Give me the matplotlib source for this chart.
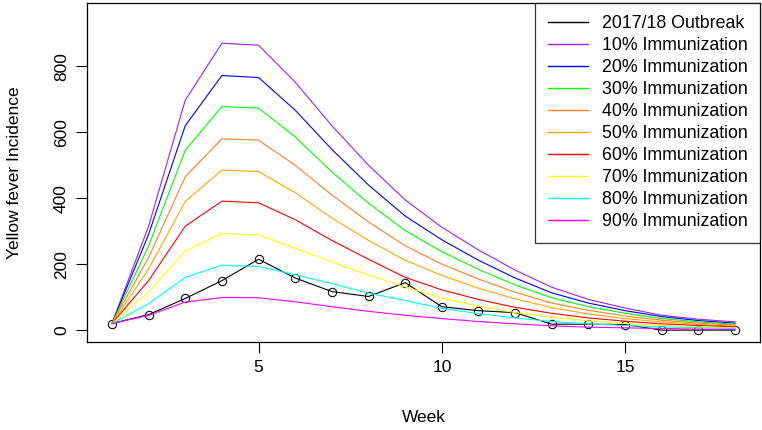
#!/usr/bin/env python3
# -*- coding: utf-8 -*-

import matplotlib
matplotlib.use('Agg')
import matplotlib.pyplot as plt

plt.rcParams['font.family'] = ['Liberation Sans', 'DejaVu Sans']

weeks = list(range(1, 19))

outbreak = [20, 47, 96, 150, 215, 158, 117, 102, 144, 71, 59, 53, 18, 18, 17, 0, 0, 0]

imm10 = [20, 315, 697, 870, 864, 752, 620, 500, 395, 312, 243, 182, 130, 93, 67, 45, 33, 25]
imm20 = [20, 290, 620, 772, 766, 667, 548, 440, 346, 274, 212, 158, 113, 82, 59, 41, 29, 21]
imm30 = [20, 255, 545, 678, 673, 586, 480, 385, 302, 238, 184, 137, 98, 71, 51, 35, 25, 18]
imm40 = [20, 220, 465, 580, 576, 500, 410, 328, 256, 200, 155, 115, 82, 60, 43, 30, 21, 15]
imm50 = [20, 185, 390, 485, 481, 417, 340, 272, 212, 166, 127, 95, 68, 49, 35, 25, 17, 12]
imm60 = [20, 150, 315, 391, 386, 335, 272, 215, 160, 122, 93, 69, 51, 37, 27, 19, 14, 10]
imm70 = [20, 115, 240, 293, 289, 248, 207, 167, 131, 97, 73, 53, 39, 28, 20, 14, 10, 7]
imm80 = [20, 80, 160, 197, 193, 168, 141, 112, 90, 66, 50, 37, 26, 19, 14, 10, 7, 5]
imm90 = [20, 45, 85, 99, 98, 86, 71, 57, 45, 35, 26, 19, 13, 9, 7, 5, 3, 2]

scenarios = [imm10, imm20, imm30, imm40, imm50, imm60, imm70, imm80, imm90]
labels = ['10% Immunization', '20% Immunization', '30% Immunization',
          '40% Immunization', '50% Immunization', '60% Immunization',
          '70% Immunization', '80% Immunization', '90% Immunization']
colors = ['#A020F0', '#0000FF', '#00FF00', '#FF7F24', '#FFA500',
          '#FF0000', '#FFFF00', '#00FFFF', '#FF00FF']

fig = plt.figure(figsize=(7.62, 4.30), dpi=100)
ax = fig.add_axes([87 / 762, 1 - 342 / 430, (760 - 87) / 762, (342 - 3) / 430])

ax.plot(weeks, outbreak, color='black', lw=0.8, marker='o', markersize=6,
        markerfacecolor='none', markeredgewidth=0.75, label='2017/18 Outbreak',
        zorder=1)
for ys, lab, c in zip(scenarios, labels, colors):
    ax.plot(weeks, ys, color=c, lw=0.8, label=lab, zorder=2)

ax.set_xlim(0.32, 18.68)
ax.set_ylim(-36, 992)
ax.set_xticks([5, 10, 15])
ax.set_yticks([0, 200, 400, 600, 800])
ax.tick_params(direction='out', length=8, width=0.8, labelsize=12.5, pad=5)
for lab in ax.get_yticklabels():
    lab.set_rotation(90)
    lab.set_va('center')
for s in ax.spines.values():
    s.set_linewidth(0.9)

ax.set_xlabel('Week', fontsize=12.5, labelpad=25)
ax.set_ylabel('Yellow fever Incidence', fontsize=12.5, labelpad=23)

leg = ax.legend(loc='upper right', borderaxespad=0, fontsize=12.8,
                frameon=True, fancybox=False, edgecolor='black',
                handlelength=2.25, handletextpad=0.8, labelspacing=0.28,
                borderpad=0.7)
leg.get_frame().set_linewidth(0.9)
for h in leg.get_lines():
    h.set_marker('')
    h.set_linewidth(1.0)

plt.savefig('out.png', dpi=100)
